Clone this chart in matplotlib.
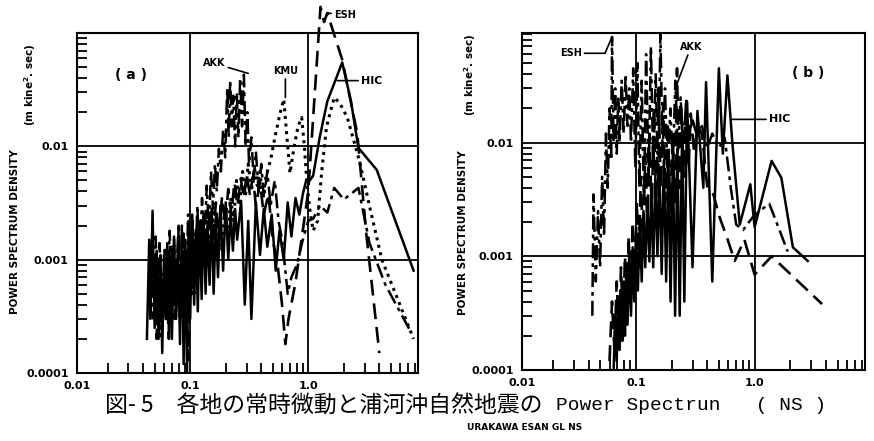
import numpy as np
import matplotlib
matplotlib.use('Agg')
import matplotlib.pyplot as plt
from matplotlib.ticker import LogLocator, NullFormatter

# ---- data: (frequency Hz, PSD) ----
# panel (a)
hic_a = [(0.043,0.0002),(0.045,0.0015),(0.046,0.0003),(0.048,0.0027),(0.050,0.00025),(0.052,0.0012),
         (0.054,0.0002),(0.056,0.0009),(0.058,0.00015),(0.060,0.0011),(0.062,0.0003),(0.064,0.0014),
         (0.066,0.00022),(0.068,0.001),(0.070,0.0002),(0.073,0.0016),(0.076,0.0003),(0.079,0.0013),
         (0.082,0.00018),(0.085,0.002),(0.088,0.00012),(0.091,0.0015),(0.094,0.0001),(0.097,0.0022),
         (0.100,0.0003),(0.104,0.0025),(0.108,0.0004),(0.112,0.0018),(0.116,0.00035),(0.120,0.0022),
         (0.125,0.00045),(0.130,0.0026),(0.135,0.0005),(0.140,0.002),(0.146,0.0006),(0.152,0.0028),
         (0.158,0.0005),(0.165,0.0024),(0.172,0.0007),(0.180,0.003),(0.19,0.0008),(0.20,0.0032),
         (0.21,0.001),(0.22,0.0026),(0.23,0.0012),(0.24,0.0028),(0.25,0.0015),(0.27,0.0033),
         (0.29,0.0004),(0.31,0.0022),(0.33,0.0003),(0.36,0.0032),(0.39,0.0011),(0.42,0.0028),
         (0.45,0.0013),(0.49,0.0025),(0.53,0.0008),(0.57,0.0018),(0.62,0.001),(0.67,0.0032),
         (0.72,0.0016),(0.78,0.0035),(0.84,0.0025),(0.90,0.0038),(0.96,0.005),(1.03,0.005),
         (1.10,0.0055),(1.25,0.012),(1.45,0.025),(1.66,0.036),(1.94,0.055),(2.3,0.025),
         (2.66,0.0097),(3.8,0.0062),(7.8,0.0008)]
esh_a = [(0.046,0.0003),(0.049,0.0011),(0.052,0.0002),(0.055,0.0014),(0.058,0.0003),(0.062,0.001),
         (0.066,0.0002),(0.07,0.0013),(0.074,0.0003),(0.079,0.0016),(0.084,0.0004),(0.09,0.0012),
         (0.096,0.00013),(0.102,0.0018),(0.108,0.0005),(0.115,0.0021),(0.122,0.0007),(0.13,0.0024),
         (0.138,0.0009),(0.146,0.0028),(0.155,0.0012),(0.165,0.0032),(0.175,0.0016),(0.186,0.0036),
         (0.198,0.002),(0.21,0.0042),(0.223,0.0025),(0.237,0.0048),(0.252,0.003),(0.268,0.0052),
         (0.285,0.0035),(0.3,0.0056),(0.32,0.0038),(0.34,0.0054),(0.36,0.003),(0.39,0.0048),
         (0.42,0.0025),(0.46,0.0038),(0.5,0.0015),(0.55,0.0009),(0.6,0.0004),(0.64,0.00018),
         (0.68,0.0003),(0.78,0.00063),(1.0,0.004),(1.27,0.17),(1.36,0.125),(1.45,0.15),
         (1.94,0.058),(2.6,0.013),(3.1,0.0017),(4.0,0.00015)]
akk_a = [(0.045,0.0004),(0.047,0.0012),(0.049,0.0003),(0.051,0.0016),(0.053,0.0004),(0.056,0.0011),
         (0.058,0.00025),(0.061,0.0013),(0.064,0.0003),(0.067,0.0018),(0.070,0.0004),(0.073,0.0015),
         (0.076,0.00035),(0.080,0.0021),(0.084,0.0005),(0.088,0.0017),(0.092,0.0004),(0.096,0.0025),
         (0.100,0.0006),(0.105,0.0022),(0.110,0.0007),(0.115,0.003),(0.120,0.0009),(0.126,0.0035),
         (0.132,0.0012),(0.138,0.0045),(0.144,0.0018),(0.150,0.006),(0.156,0.0028),(0.162,0.007),
         (0.168,0.004),(0.175,0.0095),(0.182,0.006),(0.19,0.014),(0.198,0.008),(0.206,0.033),
         (0.212,0.012),(0.218,0.038),(0.225,0.015),(0.232,0.028),(0.24,0.01),(0.248,0.03),
         (0.256,0.012),(0.265,0.04),(0.275,0.015),(0.285,0.043),(0.295,0.01),(0.305,0.02),
         (0.315,0.007),(0.33,0.012),(0.345,0.005),(0.36,0.009),(0.38,0.004),(0.40,0.007),
         (0.42,0.0035),(0.45,0.006),(0.48,0.003),(0.52,0.005),(0.56,0.0022),(0.60,0.0015),
         (0.64,0.0008),(0.67,0.0005),(0.72,0.0007),(0.8,0.0009),(0.9,0.0015),(1.0,0.0022),
         (1.1,0.0023),(1.26,0.003),(1.45,0.0026),(1.66,0.0043),(2.0,0.0034),(2.3,0.0038),
         (2.66,0.0043),(3.3,0.0014),(4.5,0.0006),(7.4,0.00023)]
kmu_a = [(0.05,0.0003),(0.053,0.0009),(0.056,0.0002),(0.06,0.0008),(0.064,0.0003),(0.068,0.0012),
         (0.072,0.0004),(0.077,0.001),(0.082,0.0003),(0.087,0.0014),(0.092,0.0005),(0.098,0.0016),
         (0.104,0.0005),(0.11,0.0018),(0.117,0.0007),(0.124,0.002),(0.131,0.0009),(0.139,0.0025),
         (0.147,0.0011),(0.156,0.0028),(0.165,0.0014),(0.175,0.0022),(0.185,0.0012),(0.196,0.003),
         (0.208,0.0016),(0.22,0.0035),(0.233,0.0022),(0.247,0.005),(0.262,0.003),(0.278,0.006),
         (0.295,0.0038),(0.31,0.007),(0.33,0.004),(0.35,0.0065),(0.37,0.0045),(0.39,0.006),
         (0.41,0.0035),(0.44,0.0055),(0.48,0.0076),(0.53,0.013),(0.58,0.02),(0.62,0.026),
         (0.66,0.012),(0.7,0.0058),(0.76,0.01),(0.82,0.015),(0.88,0.018),(0.93,0.0095),
         (0.98,0.0044),(1.04,0.0026),(1.1,0.0018),(1.2,0.0022),(1.3,0.006),(1.43,0.015),
         (1.66,0.027),(1.85,0.024),(2.14,0.018),(2.7,0.0076),(3.4,0.0026),(4.2,0.001),(7.8,0.0002)]

# panel (b)
esh_b = [(0.043,0.0003),(0.044,0.0035),(0.046,0.0006),(0.048,0.0025),(0.05,0.0008),(0.052,0.005),
         (0.054,0.0015),(0.056,0.012),(0.058,0.004),(0.06,0.02),(0.062,0.007),(0.063,0.085),
         (0.065,0.01),(0.067,0.03),(0.069,0.008),(0.071,0.025),(0.073,0.01),(0.076,0.035),
         (0.079,0.012),(0.082,0.04),(0.085,0.014),(0.088,0.03),(0.091,0.01),(0.095,0.045),
         (0.099,0.006),(0.103,0.05),(0.107,0.004),(0.112,0.035),(0.117,0.003),(0.122,0.06),
         (0.128,0.005),(0.134,0.07),(0.14,0.006),(0.147,0.04),(0.154,0.004),(0.161,0.09),
         (0.168,0.008),(0.176,0.03),(0.185,0.005),(0.195,0.02),(0.205,0.006),(0.215,0.035),
         (0.226,0.008),(0.238,0.025),(0.25,0.01),(0.265,0.02),(0.28,0.012),(0.3,0.016),
         (0.33,0.011),(0.36,0.014),(0.4,0.009),(0.44,0.012),(0.5,0.009),(0.56,0.011),
         (0.63,0.004),(0.7,0.0019),(0.8,0.0017),(0.96,0.0022),(1.1,0.0025),(1.33,0.0029),(1.9,0.0011)]
akk_b = [(0.06,0.00012),(0.063,0.0004),(0.066,0.00015),(0.069,0.0006),(0.072,0.0002),(0.075,0.0008),
         (0.078,0.00025),(0.081,0.001),(0.084,0.0003),(0.087,0.0015),(0.09,0.0004),(0.094,0.002),
         (0.098,0.0006),(0.102,0.003),(0.106,0.0008),(0.11,0.005),(0.115,0.0012),(0.12,0.008),
         (0.125,0.0018),(0.13,0.012),(0.136,0.0025),(0.142,0.02),(0.148,0.003),(0.155,0.03),
         (0.162,0.004),(0.17,0.022),(0.178,0.003),(0.186,0.015),(0.195,0.0025),(0.204,0.012),
         (0.213,0.003),(0.222,0.045),(0.232,0.004),(0.242,0.02),(0.253,0.005),(0.265,0.025),
         (0.278,0.006),(0.29,0.018),(0.31,0.008),(0.33,0.014),(0.36,0.012),(0.4,0.004),
         (0.45,0.0035),(0.5,0.0023),(0.58,0.0015),(0.68,0.00091),(0.82,0.0014),(1.0,0.00069),
         (1.39,0.001),(3.7,0.00038)]
hic_b = [(0.065,0.0001),(0.067,0.0003),(0.069,0.00012),(0.071,0.0004),(0.073,0.00015),(0.075,0.0005),
         (0.077,0.00018),(0.079,0.0006),(0.081,0.0002),(0.083,0.0008),(0.085,0.00025),(0.088,0.001),
         (0.091,0.0003),(0.094,0.0012),(0.097,0.0004),(0.1,0.0015),(0.104,0.0005),(0.108,0.002),
         (0.112,0.0006),(0.116,0.0025),(0.12,0.0008),(0.125,0.003),(0.13,0.0009),(0.135,0.004),
         (0.14,0.0008),(0.146,0.005),(0.152,0.001),(0.158,0.006),(0.165,0.0007),(0.172,0.007),
         (0.18,0.0006),(0.188,0.008),(0.196,0.0004),(0.205,0.008),(0.214,0.0003),(0.224,0.009),
         (0.234,0.0003),(0.245,0.012),(0.256,0.0004),(0.27,0.023),(0.3,0.0008),(0.33,0.019),
         (0.37,0.004),(0.39,0.034),(0.44,0.0006),(0.5,0.045),(0.54,0.008),(0.59,0.039),
         (0.65,0.0098),(0.75,0.0019),(0.92,0.0043),(1.0,0.0018),(1.39,0.0069),(1.68,0.0049),
         (2.1,0.0012),(2.8,0.00091)]

x_ticks = [0.011, 0.1, 1.0]
x_ticklabels = ['0.01', '0.1', '1.0']
y_ticks = [1e-4, 1e-3, 1e-2]
y_ticklabels = ['0.0001', '0.001', '0.01']

SOLID = dict(ls='-', lw=1.8)
DASH = dict(ls=(0, (6, 3)), lw=1.9)
DOT = dict(ls=(0, (1, 1.5)), lw=2.2)
DASHDOT = dict(ls=(0, (6, 2, 1.5, 2)), lw=1.8)
BOLD = dict(fontweight='bold', family='DejaVu Sans')


def draw(ax, series):
    for data, style, clip in series:
        f = [p[0] for p in data]
        v = [p[1] for p in data]
        ax.plot(f, v, color='black', clip_on=clip, **style)


def style_axes(ax, top):
    ax.set_xscale('log')
    ax.set_yscale('log')
    ax.set_xlim(0.011, 8.5)
    ax.set_ylim(1e-4, top)
    ax.set_xticks(x_ticks, x_ticklabels)
    ax.set_yticks(y_ticks, y_ticklabels)
    ax.xaxis.set_minor_locator(LogLocator(base=10, subs=range(2, 10)))
    ax.yaxis.set_minor_locator(LogLocator(base=10, subs=range(2, 10)))
    ax.xaxis.set_minor_formatter(NullFormatter())
    ax.yaxis.set_minor_formatter(NullFormatter())
    ax.tick_params(which='major', length=0, labelsize=8, pad=6)
    ax.tick_params(which='minor', direction='in', length=7, width=1.3)
    for lab in ax.get_xticklabels() + ax.get_yticklabels():
        lab.set_fontweight('bold')
    ax.grid(True, which='major', color='black', lw=1.3)
    for s in ax.spines.values():
        s.set_linewidth(1.5)


fig = plt.figure(figsize=(8.74, 4.41), dpi=100)
ax_a = fig.add_axes([77/874, 68/441, 341/874, 340/441])
ax_b = fig.add_axes([522/874, 71/441, 343/874, 337/441])

style_axes(ax_a, 0.1)
style_axes(ax_b, 0.092)

draw(ax_a, [(hic_a, SOLID, True), (esh_a, DASH, False), (akk_a, DASHDOT, True), (kmu_a, DOT, True)])
draw(ax_b, [(esh_b, DASHDOT, True), (akk_b, DASH, True), (hic_b, SOLID, True)])

# labels with leader lines, panel (a)
lead = dict(arrowstyle='-', color='black', lw=1.2, shrinkA=0, shrinkB=0)
ax_a.annotate('AKK', xy=(0.31, 0.044), xytext=(0.16, 0.054), ha='center', va='center',
              fontsize=7, arrowprops=lead, **BOLD)
ax_a.annotate('KMU', xy=(0.64, 0.027), xytext=(0.64, 0.046), ha='center', va='center',
              fontsize=7, arrowprops=lead, **BOLD)
ax_a.annotate('ESH', xy=(1.45, 0.15), xytext=(1.65, 0.145), ha='left', va='center',
              fontsize=7, arrowprops=lead, annotation_clip=False, **BOLD)
ax_a.annotate('HIC', xy=(1.76, 0.038), xytext=(2.8, 0.038), ha='left', va='center',
              fontsize=8, arrowprops=lead, **BOLD)
ax_a.text(0.158, 0.876, '( a )', transform=ax_a.transAxes, ha='center', va='center', fontsize=10, **BOLD)

# panel (b)
ax_b.annotate('', xy=(0.063, 0.085), xytext=(0.055, 0.061), arrowprops=lead)
ax_b.annotate('ESH', xy=(0.055, 0.061), xytext=(0.035, 0.061), ha='right', va='center',
              fontsize=7, arrowprops=lead, **BOLD)
ax_b.annotate('AKK', xy=(0.22, 0.032), xytext=(0.29, 0.069), ha='center', va='center',
              fontsize=7, arrowprops=lead, **BOLD)
ax_b.annotate('HIC', xy=(0.65, 0.016), xytext=(1.32, 0.016), ha='left', va='center',
              fontsize=8, arrowprops=lead, **BOLD)
ax_b.text(0.834, 0.881, '( b )', transform=ax_b.transAxes, ha='center', va='center', fontsize=10, **BOLD)

# y-axis titles
fig.text(15/874, 1 - 232/441, 'POWER SPECTRUM DENSITY', rotation=90, ha='center', va='center', fontsize=7.5, **BOLD)
fig.text(30/874, 1 - 85/441, '(m kine$^{\\mathbf{2}}$. sec)', rotation=90, ha='center', va='center', fontsize=7.5, **BOLD)
fig.text(463/874, 1 - 233/441, 'POWER SPECTRUM DENSITY', rotation=90, ha='center', va='center', fontsize=7.5, **BOLD)
fig.text(470/874, 1 - 75/441, '(m kine$^{\\mathbf{2}}$. sec)', rotation=90, ha='center', va='center', fontsize=7.5, **BOLD)

# caption
fig.text(105/874, 1 - 406/441, '図- 5　各地の常時微動と浦河沖自然地震の', ha='left', va='center',
         fontsize=16.5, family=['Noto Sans CJK JP', 'DejaVu Sans'])
fig.text(556/874, 1 - 406/441, 'Power Spectrun   ( NS )', ha='left', va='center',
         fontsize=14, family=['Liberation Mono', 'DejaVu Sans Mono'])
fig.text(525/874, 1 - 428/441, 'URAKAWA ESAN GL NS', ha='center', va='center', fontsize=6.5, **BOLD)

fig.savefig('out.png', dpi=100)
